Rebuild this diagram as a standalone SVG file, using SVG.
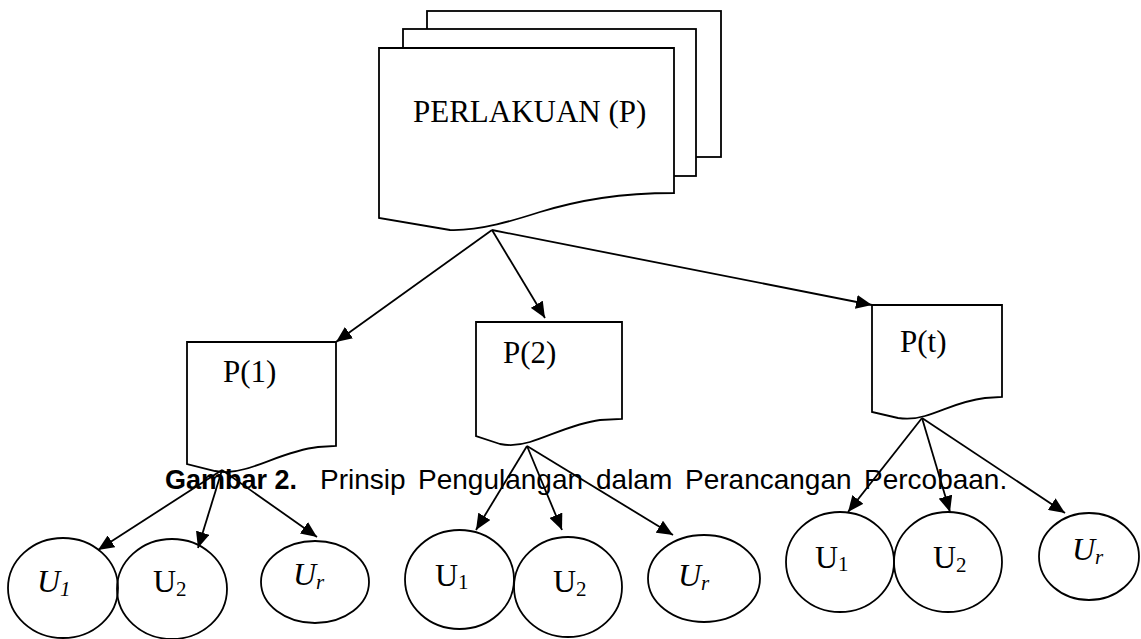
<svg xmlns="http://www.w3.org/2000/svg" width="1141" height="639" viewBox="0 0 1141 639">
<style>
.shape{fill:#fff;stroke:#000;stroke-width:1.8;stroke-linejoin:miter}
.ell{fill:none;stroke:#000;stroke-width:1.8}
.lbl{font-family:"Liberation Serif","Times New Roman",serif;font-size:31px;fill:#000}
.u{font-family:"Liberation Serif","Times New Roman",serif;font-size:32px;fill:#000}
.sub{font-size:21px}
.it{font-style:italic}
.conn line{stroke:#000;stroke-width:1.8;marker-end:url(#arr)}
.cap{font-family:"Liberation Sans",Arial,sans-serif;font-size:28px;fill:#000}
</style>
<defs>
<marker id="arr" markerUnits="userSpaceOnUse" markerWidth="17" markerHeight="14" refX="16" refY="7" orient="auto">
<path d="M0,0 L16,7 L0,14 Z" fill="#000"/>
</marker>
</defs>

<g id="perlakuan">
<rect class="shape" x="427" y="11" width="294" height="146"/>
<rect class="shape" x="403" y="29" width="293" height="147"/>
<path class="shape" d="M379,48 H674 V193 C620,193 580,200 540,212 C515,220 480,231 450,230 L379,218 Z"/>
<text class="lbl" x="413" y="122">PERLAKUAN (P)</text>
</g>

<g id="p1">
<path class="shape" d="M187,342 H336 V446 L318,447 C290,450 265,464 245,469 C235,472 225,473 215,471 L187,464 Z"/>
<text class="lbl" x="223" y="382">P(1)</text>
</g>

<g id="p2">
<path class="shape" d="M476,322 H622 V419 L600,420 C575,423 550,436 530,442 C520,445 510,446 500,444 L476,436 Z"/>
<text class="lbl" x="503" y="363">P(2)</text>
</g>

<g id="pt">
<path class="shape" d="M872,305 H1002 V397 L985,398 C960,401 945,410 925,416 C915,419 905,419 898,418 L872,412 Z"/>
<text class="lbl" x="900" y="352">P(t)</text>
</g>

<g id="conn" class="conn">
<line x1="492" y1="230" x2="336" y2="342"/>
<line x1="492" y1="230" x2="545" y2="318"/>
<line x1="492" y1="230" x2="872" y2="305"/>
<line x1="222" y1="470" x2="98" y2="550"/>
<line x1="222" y1="470" x2="198" y2="548"/>
<line x1="222" y1="470" x2="317" y2="537"/>
<line x1="527" y1="446" x2="476" y2="530"/>
<line x1="527" y1="446" x2="562" y2="530"/>
<line x1="527" y1="446" x2="673" y2="535"/>
<line x1="922" y1="418" x2="848" y2="512"/>
<line x1="922" y1="418" x2="950" y2="512"/>
<line x1="922" y1="418" x2="1065" y2="513"/>
</g>

<g id="g1u1"><ellipse class="ell" cx="63" cy="588" rx="55" ry="50"/><text class="u it" x="37" y="592">U<tspan class="sub" dy="4">1</tspan></text></g>
<g id="g1u2"><ellipse class="ell" cx="172" cy="589" rx="55" ry="50"/><text class="u" x="153" y="592">U<tspan class="sub" dy="4">2</tspan></text></g>
<g id="g1ur"><ellipse class="ell" cx="315" cy="582" rx="54" ry="41"/><text class="u it" x="293" y="585">U<tspan class="sub" dy="4">r</tspan></text></g>

<g id="g2u1"><ellipse class="ell" cx="459.5" cy="579.5" rx="54.5" ry="49.5"/><text class="u" x="435" y="586">U<tspan class="sub" dy="3">1</tspan></text></g>
<g id="g2u2"><ellipse class="ell" cx="568" cy="587" rx="54" ry="50"/><text class="u" x="553" y="592">U<tspan class="sub" dy="4">2</tspan></text></g>
<g id="g2ur"><ellipse class="ell" cx="704" cy="578.5" rx="56" ry="43.5"/><text class="u it" x="678" y="586">U<tspan class="sub" dy="4">r</tspan></text></g>

<g id="g3u1"><ellipse class="ell" cx="840" cy="562" rx="54" ry="50"/><text class="u" x="815" y="568">U<tspan class="sub" dy="3">1</tspan></text></g>
<g id="g3u2"><ellipse class="ell" cx="948" cy="562" rx="54" ry="50"/><text class="u" x="933" y="568">U<tspan class="sub" dy="4">2</tspan></text></g>
<g id="g3ur"><ellipse class="ell" cx="1089" cy="556.5" rx="50" ry="43.5"/><text class="u it" x="1072" y="560">U<tspan class="sub" dy="4">r</tspan></text></g>

<g id="caption" class="cap">
<text x="165" y="489" font-weight="bold" font-size="27">Gambar 2.</text>
<text y="489"><tspan x="320">Prinsip</tspan><tspan x="418">Pengulangan</tspan><tspan x="596">dalam</tspan><tspan x="685">Perancangan</tspan><tspan x="864">Percobaan.</tspan></text>
</g>
</svg>
